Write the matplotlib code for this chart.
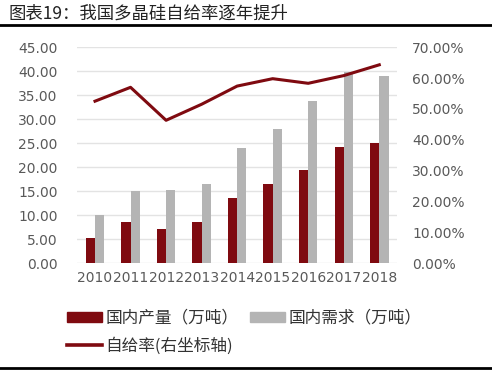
import numpy as np
import matplotlib
matplotlib.use('Agg')
import matplotlib.pyplot as plt
from matplotlib.patches import Patch
from matplotlib.lines import Line2D
from matplotlib.ticker import FuncFormatter

plt.rcParams['font.family'] = ['Noto Sans CJK SC', 'DejaVu Sans']

years = ['2010', '2011', '2012', '2013', '2014', '2015', '2016', '2017', '2018']
production = [5.2, 8.5, 7.1, 8.5, 13.6, 16.5, 19.4, 24.2, 25.0]   # 国内产量（万吨）
demand = [10.0, 15.0, 15.2, 16.5, 24.0, 27.9, 33.7, 39.8, 39.0]    # 国内需求（万吨）
self_rate = [52.5, 57.0, 46.3, 51.5, 57.4, 59.8, 58.3, 60.8, 64.3] # 自给率（%）

red = '#7f0a10'
grey = '#b4b4b4'
tick_col = '#595959'

fig = plt.figure(figsize=(4.92, 3.72), dpi=100)
ax = fig.add_axes([0.157, 0.293, 0.65, 0.58])
ax2 = ax.twinx()

x = np.arange(len(years))
w = 0.26
ax.bar(x - w / 2, production, w, color=red, zorder=3)
ax.bar(x + w / 2, demand, w, color=grey, zorder=3)
ax2.plot(x, self_rate, color=red, lw=2.2, zorder=4)

ax.set_xlim(-0.5, len(years) - 0.5)
ax.set_ylim(0, 45)
ax.set_yticks(np.arange(0, 46, 5))
ax.yaxis.set_major_formatter(FuncFormatter(lambda v, p: f'{v:.2f}'))
ax2.set_ylim(0, 70)
ax2.set_yticks(np.arange(0, 71, 10))
ax2.yaxis.set_major_formatter(FuncFormatter(lambda v, p: f'{v:.2f}%'))
ax.set_xticks(x)
ax.set_xticklabels(years)

ax.grid(axis='y', color='#e3e3e3', lw=1, zorder=0)
for a in (ax, ax2):
    for s in a.spines.values():
        s.set_visible(False)
    a.tick_params(length=0, labelsize=10, colors=tick_col)
ax.tick_params(axis='y', pad=14)
ax2.tick_params(axis='y', pad=11)
ax.tick_params(axis='x', pad=6)
for lab in ax.get_xticklabels() + ax.get_yticklabels() + ax2.get_yticklabels():
    lab.set_family('DejaVu Sans')

# title and rules
fig.text(0.018, 0.963, '图表19：我国多晶硅自给率逐年提升', fontsize=12.5, va='center', color='#222222')
fig.add_artist(Line2D([0, 1], [0.933, 0.933], color='black', lw=2))
fig.add_artist(Line2D([0, 1], [0.012, 0.012], color='black', lw=2))

handles = [Patch(color=red), Line2D([], [], color=red, lw=2.6), Patch(color=grey)]
labels = ['国内产量（万吨）', '自给率(右坐标轴)', '国内需求（万吨）']
fig.legend(handles, labels, ncol=2, loc='upper left', bbox_to_anchor=(0.122, 0.185),
           frameon=False, fontsize=12, labelcolor='#333333', handlelength=2.1,
           handleheight=0.6, columnspacing=0.7, handletextpad=0.2, labelspacing=0.6,
           borderaxespad=0)

fig.savefig('out.png', dpi=100)
